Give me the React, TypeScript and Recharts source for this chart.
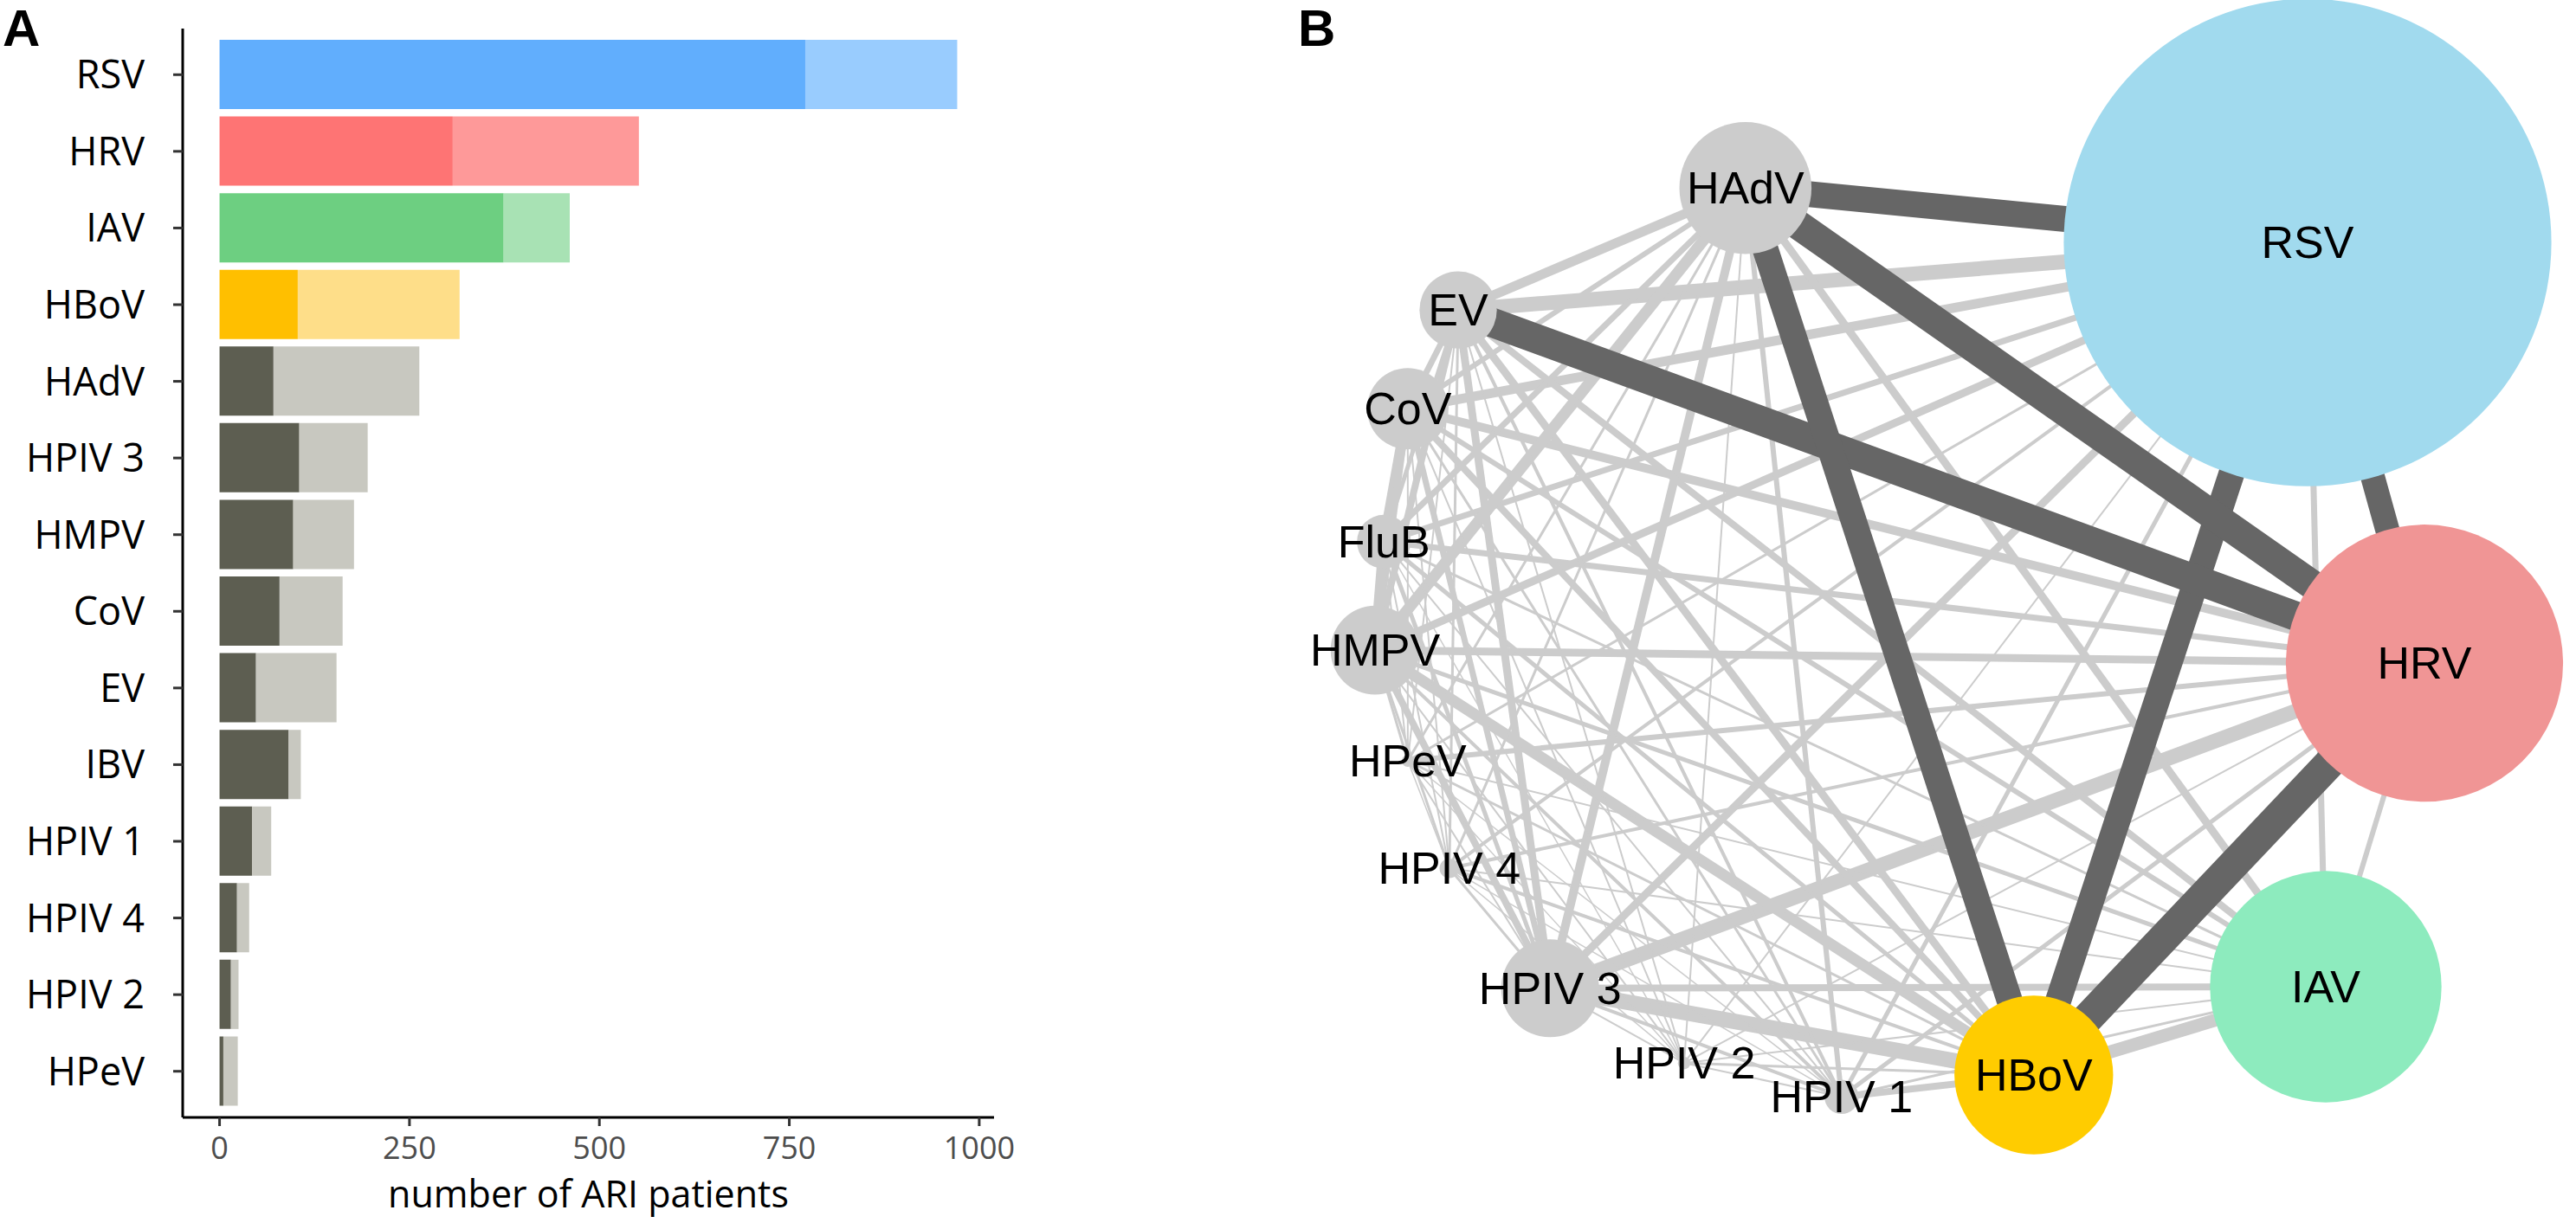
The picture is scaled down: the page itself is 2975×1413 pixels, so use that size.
import React from 'react';
import { BarChart, Bar, XAxis, YAxis, Cell, ScatterChart, Scatter } from 'recharts';

// ---- panel A: ARI patients per virus ----
const barViruses = ['RSV', 'HRV', 'IAV', 'HBoV', 'HAdV', 'HPIV 3', 'HMPV', 'CoV', 'EV', 'IBV', 'HPIV 1', 'HPIV 4', 'HPIV 2', 'HPeV'];
const singleDetections = [771, 307, 374, 103, 71, 105, 97, 79, 48, 91, 43, 23, 15, 5];
const coDetections = [200, 245, 87, 213, 192, 90, 80, 83, 106, 16, 25, 16, 10, 19];
const xTicks = [0, 250, 500, 750, 1000];

// ---- panel B: co-detection network ----
const nodeNames = ['RSV', 'HRV', 'IAV', 'HBoV', 'HPIV 1', 'HPIV 2', 'HPIV 3', 'HPIV 4', 'HPeV', 'HMPV', 'FluB', 'CoV', 'EV', 'HAdV'];
const nodeCounts = [971, 552, 461, 316, 68, 25, 195, 39, 24, 177, 107, 162, 154, 263];
const nodeLayoutX = [0.725, 0.95, 0.76, 0.198, -0.172, -0.475, -0.733, -0.927, -1.007, -1.07, -1.053, -1.007, -0.91, -0.357];
const nodeLayoutY = [0.733, -0.077, -0.7, -0.87, -0.912, -0.847, -0.703, -0.472, -0.265, -0.052, 0.157, 0.413, 0.603, 0.838];

// strong (significant) co-detections
const strongEdges: [string, string, number][] = [
  ['RSV', 'HAdV', 30],
  ['RSV', 'HRV', 28],
  ['RSV', 'HBoV', 30],
  ['HRV', 'HAdV', 34],
  ['HRV', 'EV', 34],
  ['HRV', 'HBoV', 36],
  ['HBoV', 'HAdV', 30],
];

// other co-detections
const weakEdges: [string, string, number][] = [
  ['RSV', 'EV', 17], ['RSV', 'CoV', 11], ['RSV', 'FluB', 7], ['RSV', 'HMPV', 9], ['RSV', 'HPIV 3', 9],
  ['RSV', 'IAV', 7], ['RSV', 'HPeV', 3], ['RSV', 'HPIV 4', 4], ['RSV', 'HPIV 1', 5], ['RSV', 'HPIV 2', 2],
  ['HRV', 'HPIV 3', 17], ['HRV', 'HMPV', 9], ['HRV', 'CoV', 10], ['HRV', 'FluB', 7], ['HRV', 'HPeV', 6],
  ['HRV', 'IAV', 6], ['HRV', 'HPIV 4', 4], ['HRV', 'HPIV 1', 5], ['HRV', 'HPIV 2', 2],
  ['HBoV', 'HPIV 3', 18], ['HBoV', 'IAV', 15], ['HBoV', 'HMPV', 13], ['HBoV', 'HPIV 1', 8], ['HBoV', 'CoV', 8],
  ['HBoV', 'EV', 9], ['HBoV', 'FluB', 5], ['HBoV', 'HPIV 4', 4], ['HBoV', 'HPeV', 3], ['HBoV', 'HPIV 2', 3],
  ['HAdV', 'EV', 11], ['HAdV', 'CoV', 6], ['HAdV', 'FluB', 7], ['HAdV', 'HMPV', 13], ['HAdV', 'HPIV 3', 10],
  ['HAdV', 'HPIV 1', 6], ['HAdV', 'IAV', 9], ['HAdV', 'HPIV 4', 3], ['HAdV', 'HPeV', 3], ['HAdV', 'HPIV 2', 2],
  ['IAV', 'HPIV 3', 8], ['IAV', 'CoV', 6], ['IAV', 'EV', 8], ['IAV', 'HMPV', 5], ['IAV', 'FluB', 3],
  ['IAV', 'HPIV 1', 3], ['IAV', 'HPIV 4', 2], ['IAV', 'HPeV', 2], ['IAV', 'HPIV 2', 2],
  ['EV', 'CoV', 7], ['EV', 'FluB', 5], ['EV', 'HMPV', 8], ['EV', 'HPIV 3', 9], ['EV', 'HPIV 1', 4],
  ['EV', 'HPIV 4', 3], ['EV', 'HPeV', 2], ['EV', 'HPIV 2', 2],
  ['CoV', 'FluB', 12], ['CoV', 'HMPV', 8], ['CoV', 'HPIV 3', 7], ['CoV', 'HPIV 1', 3], ['CoV', 'HPIV 4', 2],
  ['CoV', 'HPeV', 2], ['CoV', 'HPIV 2', 2],
  ['FluB', 'HMPV', 12], ['FluB', 'HPIV 3', 5], ['FluB', 'HPIV 1', 2], ['FluB', 'HPIV 4', 2], ['FluB', 'HPeV', 2],
  ['FluB', 'HPIV 2', 1.5],
  ['HMPV', 'HPIV 3', 8], ['HMPV', 'HPIV 1', 4], ['HMPV', 'HPIV 4', 3], ['HMPV', 'HPeV', 3], ['HMPV', 'HPIV 2', 2],
  ['HPIV 3', 'HPIV 1', 4], ['HPIV 3', 'HPIV 4', 3], ['HPIV 3', 'HPeV', 2], ['HPIV 3', 'HPIV 2', 2],
  ['HPIV 1', 'HPIV 4', 1.5], ['HPIV 1', 'HPeV', 1.5], ['HPIV 1', 'HPIV 2', 2],
  ['HPIV 4', 'HPeV', 1.5], ['HPIV 4', 'HPIV 2', 1.5], ['HPeV', 'HPIV 2', 1.5],
];

// styles
const darkBarColors = ['#61AEFD', '#FE7474', '#6DCF81', '#FFBF00'];
const lightBarColors = ['#99CCFE', '#FE9999', '#A8E2B4', '#FEDE89'];
const greyDark = '#5D5E51';
const greyLight = '#C8C8C0';
const nodeColors: Record<string, string> = { RSV: '#A1DAEE', HRV: '#F09595', IAV: '#8DEBBE', HBoV: '#FFCC00' };
const NODE_RADIUS_PER_PATIENT = 0.29;

const barData = barViruses.map((name, i) => ({ name, single: singleDetections[i], co: coDetections[i] }));

const nodeData = nodeNames.map((name, i) => ({ name, count: nodeCounts[i], x: nodeLayoutX[i], y: nodeLayoutY[i] }));
const nodeByName = Object.fromEntries(nodeData.map((n) => [n.name, n]));

const NodeShape = (props: any) => {
  const { cx, cy, payload } = props;
  const r = payload.count * NODE_RADIUS_PER_PATIENT;
  return (
    <g>
      <circle cx={cx} cy={cy} r={r} fill={nodeColors[payload.name] || '#CCCCCC'} />
      <text
        x={cx}
        y={cy}
        textAnchor="middle"
        dominantBaseline="central"
        fontFamily="'Liberation Sans', Arial, sans-serif"
        fontSize={52}
        fill="#000"
      >
        {payload.name}
      </text>
    </g>
  );
};

const NoShape = () => <g />;

const edgeSeries = (list: [string, string, number][], color: string) =>
  list.map(([a, b, w]) => (
    <Scatter
      key={`${a}-${b}`}
      data={[nodeByName[a], nodeByName[b]]}
      line={{ stroke: color, strokeWidth: w }}
      shape={NoShape}
      fill={color}
      isAnimationActive={false}
      legendType="none"
    />
  ));

export default function App() {
  return (
    <div style={{ position: 'relative', width: 2975, height: 1413, background: '#fff' }}>
      <style>{'body{margin:0}'}</style>
      <div style={{ position: 'absolute', left: 0, top: 0 }}>
        <BarChart
          width={1200}
          height={1413}
          data={barData}
          layout="vertical"
          margin={{ top: 33, right: 52, bottom: 7, left: 0 }}
          barSize={80}
        >
          <XAxis
            type="number"
            domain={[-48.5, 1019.5]}
            ticks={xTicks}
            allowDataOverflow
            height={115}
            axisLine={{ stroke: '#000', strokeWidth: 3 }}
            tickLine={{ stroke: '#333', strokeWidth: 3 }}
            tickSize={10}
            tickMargin={12}
            tick={{ fill: '#4D4D4D', fontSize: 36, fontFamily: "'Open Sans', sans-serif" }}
            label={{
              value: 'number of ARI patients',
              position: 'insideBottom',
              offset: 11,
              fill: '#000',
              fontSize: 43,
              fontFamily: "'Open Sans', sans-serif",
            }}
          />
          <YAxis
            type="category"
            dataKey="name"
            width={211}
            padding={{ top: 9, bottom: 9 }}
            interval={0}
            axisLine={{ stroke: '#000', strokeWidth: 3 }}
            tickLine={{ stroke: '#333', strokeWidth: 3 }}
            tickSize={11}
            tickMargin={33}
            tick={{ fill: '#000', fontSize: 45, fontFamily: "'Open Sans', sans-serif" }}
          />
          <Bar dataKey="single" stackId="a" isAnimationActive={false}>
            {barData.map((d, i) => (
              <Cell key={d.name} fill={darkBarColors[i] || greyDark} />
            ))}
          </Bar>
          <Bar dataKey="co" stackId="a" isAnimationActive={false}>
            {barData.map((d, i) => (
              <Cell key={d.name} fill={lightBarColors[i] || greyLight} />
            ))}
          </Bar>
        </BarChart>
      </div>
      <div style={{ position: 'absolute', left: 1500, top: 0 }}>
        <ScatterChart width={1475} height={1413} margin={{ top: 0, right: 0, bottom: 0, left: 0 }}>
          <XAxis type="number" dataKey="x" domain={[-1.2167, 1.2417]} allowDataOverflow hide />
          <YAxis type="number" dataKey="y" domain={[-1.155, 1.2]} allowDataOverflow hide />
          {edgeSeries(weakEdges, '#CCCCCC')}
          {edgeSeries(strongEdges, '#666666')}
          <Scatter data={nodeData} shape={NodeShape} isAnimationActive={false} legendType="none" />
        </ScatterChart>
      </div>
      <svg width={2975} height={1413} style={{ position: 'absolute', left: 0, top: 0, pointerEvents: 'none' }}>
        <text x={3} y={53} fontFamily="'Liberation Sans', Arial, sans-serif" fontWeight="bold" fontSize={60}>
          A
        </text>
        <text x={1499} y={53} fontFamily="'Liberation Sans', Arial, sans-serif" fontWeight="bold" fontSize={60}>
          B
        </text>
      </svg>
    </div>
  );
}
